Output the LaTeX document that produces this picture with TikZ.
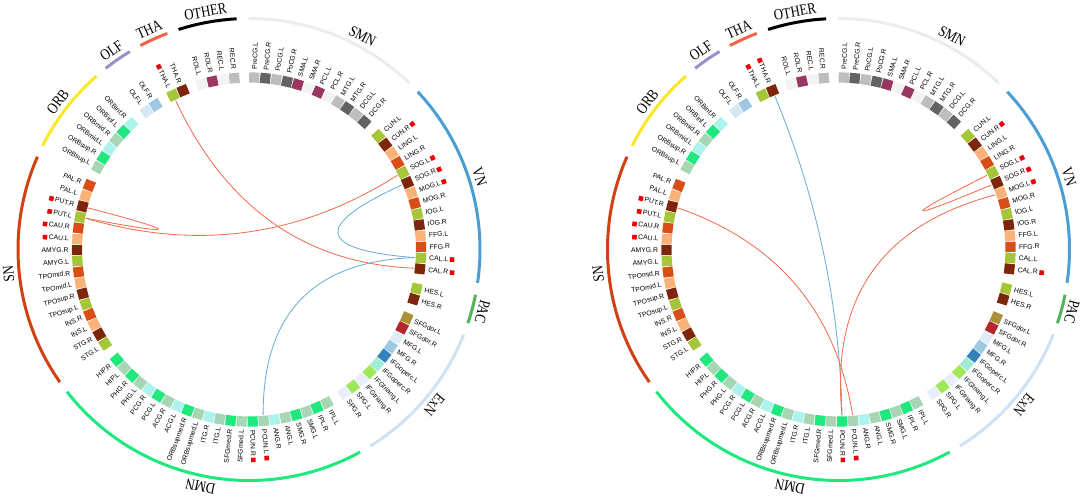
\documentclass[tikz,border=0pt]{standalone}
\usepackage{fontspec}
\setmainfont{Liberation Serif}
\newfontfamily\labfont{Liberation Sans}
\usetikzlibrary{calc}

\definecolor{grn}{RGB}{166,198,57}
\definecolor{brn}{RGB}{125,38,12}
\definecolor{lor}{RGB}{250,178,120}
\definecolor{orr}{RGB}{216,78,22}
\definecolor{dgrn}{RGB}{32,232,126}
\definecolor{sage}{RGB}{166,214,180}
\definecolor{cyan}{RGB}{172,243,238}
\definecolor{olfl}{RGB}{214,230,244}
\definecolor{olfr}{RGB}{158,200,225}
\definecolor{vlgray}{RGB}{242,242,242}
\definecolor{lgray}{RGB}{189,189,189}
\definecolor{dgray}{RGB}{99,99,99}
\definecolor{purp}{RGB}{153,55,96}
\definecolor{olive}{RGB}{170,145,55}
\definecolor{dred}{RGB}{180,40,45}
\definecolor{vlblue}{RGB}{222,235,247}
\definecolor{lblue}{RGB}{158,202,225}
\definecolor{dblue}{RGB}{49,130,189}
\definecolor{aqua}{RGB}{161,236,217}
\definecolor{lgreen}{RGB}{160,232,90}
\definecolor{vlav}{RGB}{232,238,250}
\definecolor{mred}{RGB}{240,0,0}
\definecolor{cORB}{RGB}{248,232,40}
\definecolor{cOLF}{RGB}{155,143,200}
\definecolor{cTHA}{RGB}{242,100,70}
\definecolor{cOTHER}{RGB}{0,0,0}
\definecolor{cSMN}{RGB}{236,236,236}
\definecolor{cVN}{RGB}{74,158,212}
\definecolor{cPAC}{RGB}{80,180,90}
\definecolor{cExN}{RGB}{207,226,243}
\definecolor{cDMN}{RGB}{30,232,126}
\definecolor{cSN}{RGB}{210,65,20}
\definecolor{lred}{RGB}{243,110,80}
\definecolor{lblu}{RGB}{107,174,214}

\tikzset{
  sq/.style={minimum size=10.2pt, inner sep=0pt, outer sep=0pt, draw=none},
  lab/.style={inner sep=0pt, outer sep=0pt, font=\labfont\fontsize{6.8}{7}\selectfont, text height=4.9pt, text depth=0pt},
  glab/.style={inner sep=0pt, outer sep=0pt, font=\fontsize{13.5}{14}\selectfont, text height=10pt, text depth=0pt},
  grparc/.style={line width=3pt},
  lnk/.style={line width=0.85pt},
}

\def\regionlist{ROL.L/vlgray/0/0/0,ROL.R/purp/0/0/0,REC.L/vlgray/0/0/0,REC.R/lgray/0/0/0,%
PreCG.L/lgray/0/0/1,PreCG.R/dgray/0/0/1,PoCG.L/lgray/0/0/1,PoCG.R/dgray/0/0/1,%
SMA.L/purp/0/0/1,SMA.R/vlgray/0/0/1,PCL.L/purp/0/0/1,PCL.R/vlgray/0/0/1,%
MTG.L/lgray/0/0/1,MTG.R/dgray/0/0/1,DCG.L/lgray/0/0/1,DCG.R/dgray/0/0/1,%
CUN.L/grn/0/0/2,CUN.R/brn/1/1/2,LING.L/lor/0/0/2,LING.R/orr/0/0/2,%
SOG.L/grn/1/1/2,SOG.R/brn/1/1/2,MOG.L/lor/1/1/2,MOG.R/orr/0/0/2,%
IOG.L/grn/0/0/2,IOG.R/brn/0/0/2,FFG.L/lor/0/0/2,FFG.R/orr/0/0/2,%
CAL.L/grn/1/0/2,CAL.R/brn/1/1/2,%
HES.L/grn/0/0/3,HES.R/brn/0/0/3,%
SFGdor.L/olive/0/0/4,SFGdor.R/dred/0/0/4,MFG.L/vlblue/0/0/4,MFG.R/lblue/0/0/4,%
IFGoperc.L/dblue/0/0/4,IFGoperc.R/aqua/0/0/4,IFGtriang.L/lgreen/0/0/4,IFGtriang.R/vlav/0/0/4,%
SPG.L/lgreen/0/0/4,SPG.R/vlav/0/0/4,%
IPL.L/sage/0/0/5,IPL.R/dgrn/0/0/5,SMG.L/sage/0/0/5,SMG.R/dgrn/0/0/5,%
ANG.L/sage/0/0/5,ANG.R/cyan/0/0/5,PCUN.L/sage/1/1/5,PCUN.R/dgrn/1/1/5,%
SFGmed.L/sage/0/0/5,SFGmed.R/dgrn/0/0/5,ITG.L/sage/0/0/5,ITG.R/cyan/0/0/5,%
ORBsupmed.L/sage/0/0/5,ORBsupmed.R/dgrn/0/0/5,ACG.L/cyan/0/0/5,ACG.R/sage/0/0/5,%
PCG.L/dgrn/0/0/5,PCG.R/cyan/0/0/5,PHG.L/sage/0/0/5,PHG.R/dgrn/0/0/5,%
HIP.L/sage/0/0/5,HIP.R/dgrn/0/0/5,%
STG.L/grn/0/0/6,STG.R/brn/0/0/6,INS.L/lor/0/0/6,INS.R/orr/0/0/6,%
TPOsup.L/grn/0/0/6,TPOsup.R/brn/0/0/6,TPOmid.L/lor/0/0/6,TPOmid.R/orr/0/0/6,%
AMYG.L/grn/0/0/6,AMYG.R/brn/0/0/6,CAU.L/lor/1/1/6,CAU.R/orr/1/1/6,%
PUT.L/grn/1/1/6,PUT.R/brn/1/1/6,PAL.L/lor/0/0/6,PAL.R/orr/0/0/6,%
ORBsup.L/sage/0/0/7,ORBsup.R/dgrn/0/0/7,ORBmid.L/cyan/0/0/7,ORBmid.R/sage/0/0/7,%
ORBinf.L/dgrn/0/0/7,ORBinf.R/cyan/0/0/7,%
OLF.L/olfl/0/0/8,OLF.R/olfr/0/0/8,%
THA.L/grn/1/1/9,THA.R/brn/0/1/9}

\def\grouplist{107.74/93.06/cOTHER/OTHER/100.4,%
90.09/46.05/cSMN/SMN/62,%
43.07/-8.3/cVN/VN/17.4,%
-11.28/-18.61/cPAC/PAC/-14.95,%
-21.59/-58.29/cExN/ExN/-39.9,%
-61.26/-142.0/cDMN/DMN/-101.6,%
-144.97/-203.68/cSN/SN/-174.3,%
-206.66/-228.68/cORB/ORB/-217.7,%
-231.65/-238.98/cOLF/OLF/-235.3,%
-241.96/-249.29/cTHA/THA/-245.6}

% #1 prefix, #2 = 1 (left panel marks) or 2 (right panel marks)
\newcommand\ring[2]{%
  \foreach \nm/\col/\ml/\mr/\G [count=\i from 0] in \regionlist {
    \pgfmathsetmacro\th{105.9-\i*3.67-\G*2.97}
    \ifnum#2=1 \let\mflag\ml \else \let\mflag\mr \fi
    \ifnum\mflag=1 \def\mk{\textcolor{mred}{\rule{4.6pt}{4.6pt}}}\else\def\mk{}\fi
    \node[sq, fill=\col, rotate=\th] (#1s\i) at (\th:172) {};
    \coordinate (#1e\i) at (\th:166);
    \pgfmathtruncatemacro\side{(\th>90 || \th<-90) ? 1 : 0}
    \ifnum\side=1
      \node[lab, anchor=east, rotate=\th+180] (#1t\i) at (\th:180.5)
        {\mk\ifx\mk\empty\else\hspace{1.6pt}\fi\nm};
    \else
      \node[lab, anchor=west, rotate=\th] (#1t\i) at (\th:180.5)
        {\nm\ifx\mk\empty\else\hspace{1.6pt}\fi\mk};
    \fi
  }
  \foreach \s/\e/\c/\lab/\la in \grouplist {
    \draw[grparc, \c] (\s:231) arc[start angle=\s, end angle=\e, radius=231];
    \node[glab, rotate=\la-90] (#1g\lab) at (\la:241.5) {\scalebox{0.95}[1.15]{\lab}};
  }
}

\newcommand\link[4]{\draw[lnk,#1] (#2) .. controls ($(#2)!0.6667!(#4)$) and ($(#3)!0.6667!(#4)$) .. (#3);}

\begin{document}
\begin{tikzpicture}[x=1pt,y=1pt]
\useasboundingbox (0,0) rectangle (1084,497);

% ---------- left panel ----------
\begin{scope}[shift={(249,247.5)}]
  \ring{A}{1}
  \coordinate (Aq1) at (2,-12);
  \coordinate (Aq2) at (-192.7:20);
  \coordinate (Aq3) at (3,-18);
  \coordinate (Aq4) at (10.15:19);
  \coordinate (Aq5) at (-43.85:19);
  \link{lred}{Ae88}{Ae29}{Aq1}
  \link{lred}{Ae77}{Ae76}{Aq2}
  \link{lred}{Ae76}{Ae20}{Aq3}
  \link{lblu}{Ae21}{Ae28}{Aq4}
  \link{lblu}{Ae28}{Ae48}{Aq5}
\end{scope}

% ---------- right panel ----------
\begin{scope}[shift={(838.5,247.5)}]
  \ring{B}{2}
  \coordinate (Bq1) at (0,0);
  \coordinate (Bq2) at (220.2:15);
  \coordinate (Bq3) at (24.7:20);
  \coordinate (Bq4) at (145.2:17);
  \link{lblu}{Be89}{Be49}{Bq1}
  \link{lred}{Be77}{Be48}{Bq2}
  \link{lred}{Be20}{Be21}{Bq3}
  \link{lred}{Be22}{Be49}{Bq4}
\end{scope}
\end{tikzpicture}
\end{document}
